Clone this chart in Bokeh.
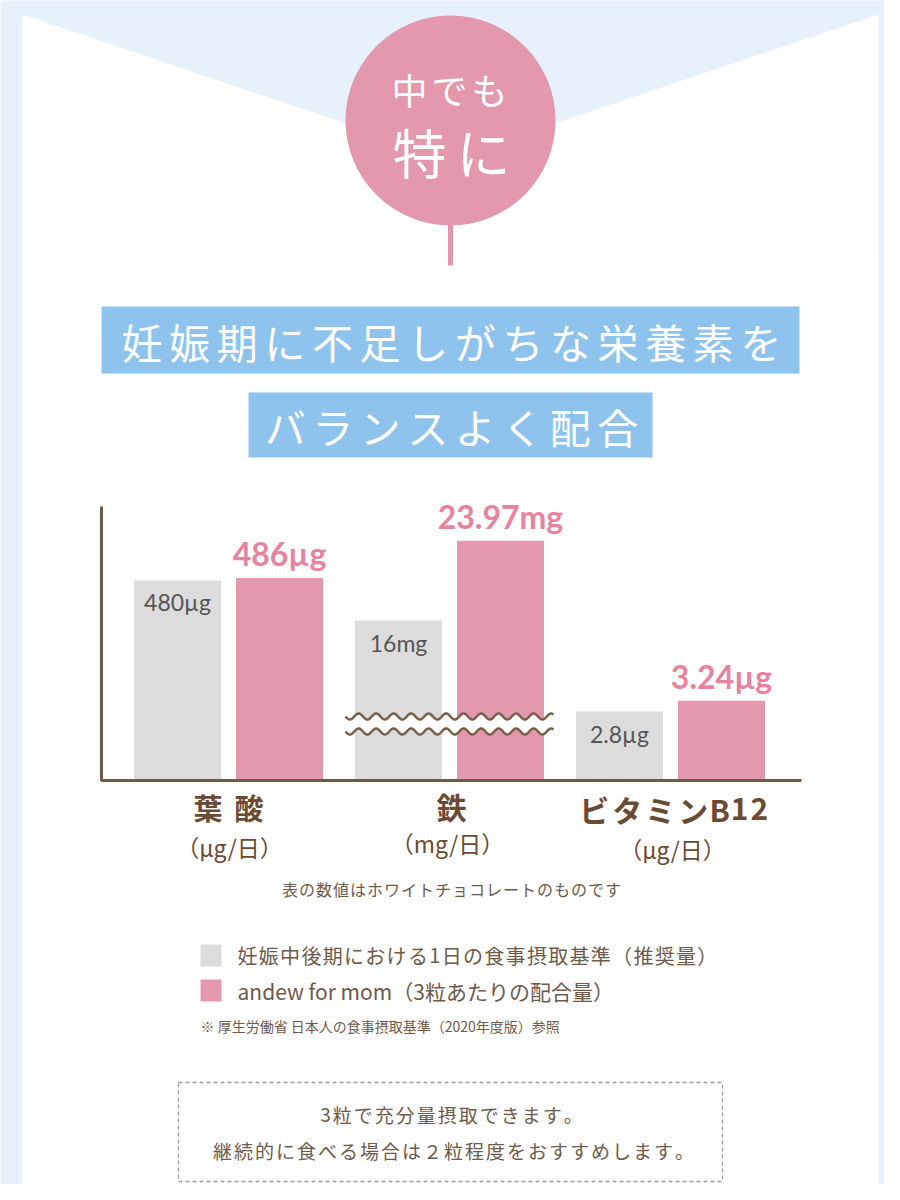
import numpy as np
from bokeh.plotting import figure
from bokeh.models import Range1d
from bokeh.core.properties import value
from bokeh.embed import file_html
from bokeh.resources import INLINE

# ---------------- data ----------------
categories = ["葉酸", "鉄", "ビタミンB12"]
unit_labels = ["（µg/日）", "（mg/日）", "（µg/日）"]
standard = [480, 16, 2.8]
andew = [486, 23.97, 3.24]
standard_labels = ["480µg", "16mg", "2.8µg"]
andew_labels = ["486µg", "23.97mg", "3.24µg"]
# value shown at the top edge of the chart area, per group (each group has its own scale)
group_axis_max = [655.0, 27.3, 11.08]
legend_labels = ["妊娠中後期における1日の食事摂取基準（推奨量）",
                 "andew for mom（3粒あたりの配合量）"]
circle_lines = ["中でも", "特に"]
title_lines = ["妊娠期に不足しがちな栄養素を", "バランスよく配合"]
note_text = "表の数値はホワイトチョコレートのものです"
source_note = "※ 厚生労働省 日本人の食事摂取基準（2020年度版）参照"
box_lines = ["3粒で充分量摂取できます。", "継続的に食べる場合は２粒程度をおすすめします。"]

# ---------------- style ----------------
BG_BLUE = "#e6f1fb"
PINK = "#e398ad"
PINK_TXT = "#e8839f"
GRAY = "#dcdcdc"
BANNER = "#8ec3ee"
BROWN = "#6b4a33"
BROWN_TXT = "#6e5a4a"
AXIS = "#6f5a48"
JP = "Noto Sans CJK JP"

W, H = 884, 1184
p = figure(width=W, height=H, x_range=Range1d(0, W), y_range=Range1d(H, 0),
           output_backend="svg", toolbar_location=None, min_border=0,
           x_axis_type=None, y_axis_type=None,
           background_fill_color=BG_BLUE, border_fill_color=BG_BLUE,
           outline_line_color=None)
p.grid.visible = False
p.min_border_left = p.min_border_right = p.min_border_top = p.min_border_bottom = 0


def spaced(text, cx, cy, size, extra, color, bold=False, font=JP, align="center"):
    advs = [size if ord(c) > 0x2E7F else size * 0.56 for c in text]
    total = sum(advs) + extra * (len(text) - 1)
    x = cx - total / 2 if align == "center" else cx
    xs = []
    for a in advs:
        xs.append(x + a / 2)
        x += a + extra
    p.text(x=xs, y=[cy] * len(xs), text=list(text), text_font=value(font),
           text_font_size=f"{size}px", text_align="center", text_baseline="middle",
           text_color=color, text_font_style="bold" if bold else "normal")


# background panel with V cut
p.patch([22, 450, 878, 878, 22], [14, 158, 14, 1200, 1200], color="white", line_color=None)

# circle badge
p.segment(x0=[450], y0=[215], x1=[450], y1=[265], line_width=5, line_color=PINK)
p.circle(x=[450], y=[120], radius=105, fill_color=PINK, line_color=None)
spaced(circle_lines[0], 449, 88, 36, 4, "white")
spaced(circle_lines[1], 451, 151, 54, 10, "white")

# title banners
p.quad(left=[101, 248], right=[799, 652], top=[306, 392], bottom=[373, 457],
       fill_color=BANNER, line_color=None)
spaced(title_lines[0], 451, 340, 41, 6.6, "white")
spaced(title_lines[1], 451, 425, 41, 6.5, "white")

# ---------------- bar chart ----------------
BASE = 780
TOP = 507
group_centers = [228, 449, 670]
OFF = 51
BW = 87
for i, cat in enumerate(categories):
    s = (BASE - TOP) / group_axis_max[i]
    name = f"g{i}"
    p.extra_y_ranges[name] = Range1d(start=-(H - BASE) / s, end=BASE / s)
    gx = group_centers[i]
    p.vbar(x=[gx - OFF], top=[standard[i]], bottom=0, width=BW, fill_color=GRAY,
           line_color=None, y_range_name=name)
    p.vbar(x=[gx + OFF], top=[andew[i]], bottom=0, width=BW, fill_color=PINK,
           line_color=None, y_range_name=name)
    p.text(x=[gx - OFF], y=[standard[i]], text=[standard_labels[i]], y_offset=22,
           y_range_name=name, text_font=value("Lato"), text_font_size="23px",
           text_color="#555555", text_align="center", text_baseline="middle")
    p.text(x=[gx + OFF], y=[andew[i]], text=[andew_labels[i]], y_offset=-24,
           y_range_name=name, text_font=value("Lato"), text_font_size="32px",
           text_font_style="bold", text_color=PINK_TXT, text_align="center",
           text_baseline="middle")

# break marks on the iron bars
xw = np.linspace(345, 553, 400)
phase = np.sin(2 * np.pi * (xw - 345) / 17.5)
y_up = 716 + 3 * phase
y_dn = 731 + 3 * phase
p.varea(x=xw, y1=y_up, y2=y_dn, fill_color="white")
p.line(xw, y_up, line_color="#7a6048", line_width=2.5)
p.line(xw, y_dn, line_color="#7a6048", line_width=2.5)

# axes lines
p.line([101, 101, 801], [506, BASE, BASE], line_color=AXIS, line_width=3)

# category labels
spaced(categories[0], 228, 806, 29, 12, BROWN, bold=True)
spaced(categories[1], 451, 805, 30, 0, BROWN, bold=True)
spaced(categories[2], 673, 808, 30, 3, BROWN, bold=True)
for cx, cy, u in zip([229, 447, 672], [846, 842, 848], unit_labels):
    p.text(x=[cx], y=[cy], text=[u], text_font=value(JP), text_font_size="23px",
           text_color=BROWN, text_align="center", text_baseline="middle")

spaced(note_text, 451, 888, 16, 1, BROWN_TXT)

# legend
p.quad(left=[200, 200], right=[221, 221], top=[944, 979], bottom=[966, 1001],
       fill_color=[GRAY, PINK], line_color=None)
spaced(legend_labels[0], 237, 955, 20, 1.3, BROWN_TXT, align="left")
p.text(x=[237], y=[990], text=[legend_labels[1]], text_font=value(JP),
       text_font_size="21px", text_color=BROWN_TXT, text_align="left",
       text_baseline="middle")
p.text(x=[200], y=[1025], text=[source_note], text_font=value(JP), text_font_size="14px",
       text_color=BROWN_TXT, text_align="left", text_baseline="middle")

# dashed note box
p.quad(left=[178], right=[722], top=[1082], bottom=[1181], fill_color=None,
       line_color="#9a9a9a", line_dash="4 3", line_width=1.3)
spaced(box_lines[0], 451, 1114, 19, 2, BROWN_TXT)
spaced(box_lines[1], 453, 1150, 19, 2, BROWN_TXT)

open("out.html", "w").write(file_html(p, INLINE))
